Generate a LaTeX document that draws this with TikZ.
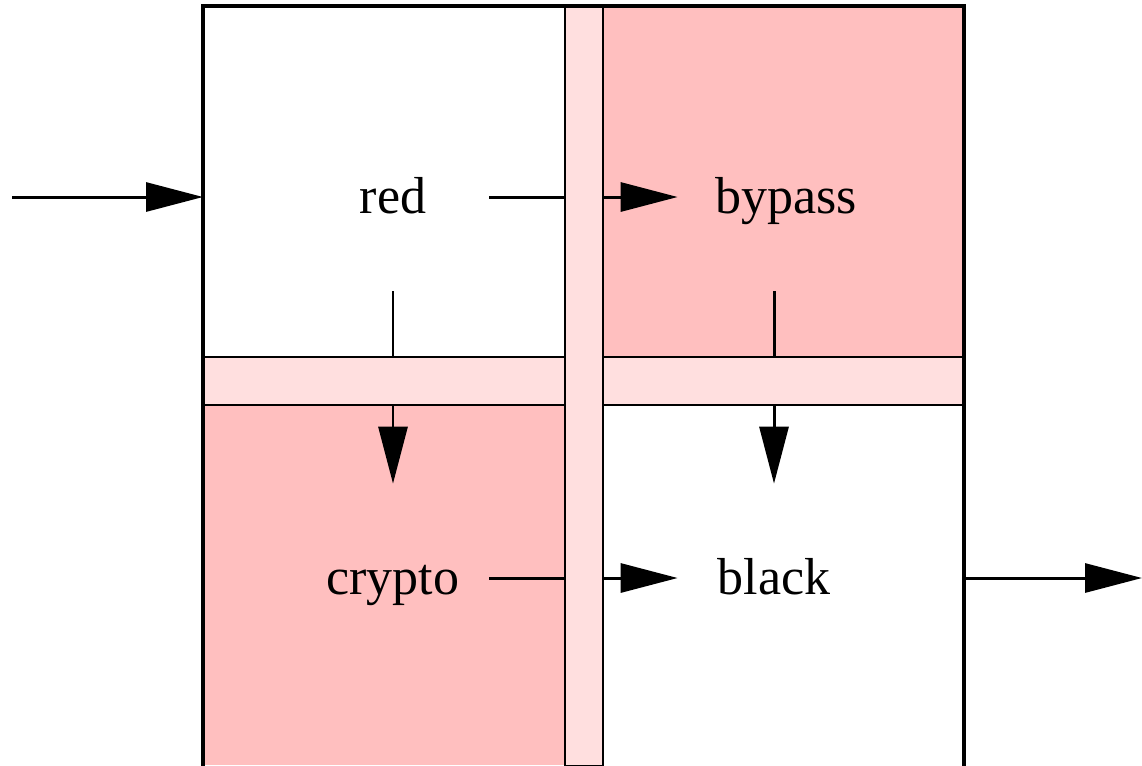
\documentclass[tikz,border=0pt]{standalone}
\usepackage{fontspec}
\setmainfont{Liberation Serif}
\usetikzlibrary{arrows.meta}
\definecolor{cellpink}{RGB}{255,191,191}
\definecolor{strippink}{RGB}{255,223,223}
\tikzset{
  cell/.style={minimum width=192*0.02cm, minimum height=188*0.02cm, inner sep=0pt,
    text height=18.4pt, text depth=0pt, font=\fontsize{29.6}{34}\selectfont},
  flow/.style={-{Triangle[length=1.14cm,width=0.58cm]}, line width=1.7pt},
  strip/.style={fill=strippink, draw=black, line width=0.9pt}
}
\begin{document}
\begin{tikzpicture}[x=0.02cm, y=-0.02cm]
      \useasboundingbox (0,0) rectangle (1142,765);

      \fill[cellpink] (603,6) rectangle (964,357);
      \fill[cellpink] (203,405) rectangle (565,765);

      \node[cell] (red) at (393,197) {red};
      \node[cell] (bypass) at (774,197) {\hspace*{13.6pt}bypass};
      \node[cell] (crypto) at (393,578) {crypto};
      \node[cell] (black) at (774,578) {black};

      \coordinate (in) at (12,197);
      \coordinate (inbox) at (203,197);
      \coordinate (outbox) at (964,578);
      \coordinate (out) at (1142,578);

      \draw[flow] (in)--(inbox);
      \draw[flow] (red)--(bypass);
      \draw[flow] (red)--(crypto);
      \draw[flow] (bypass)--(black);
      \draw[flow] (crypto)--(black);
      \draw[flow] (outbox)--(out);

      \draw[strip] (203,357) rectangle (565,405);
      \draw[strip] (603,357) rectangle (964,405);
      \draw[strip] (565,6) rectangle (603,766);

      \draw[line width=1.9pt] (203,766)--(203,6)--(964,6)--(964,766);
    \end{tikzpicture}
\end{document}
